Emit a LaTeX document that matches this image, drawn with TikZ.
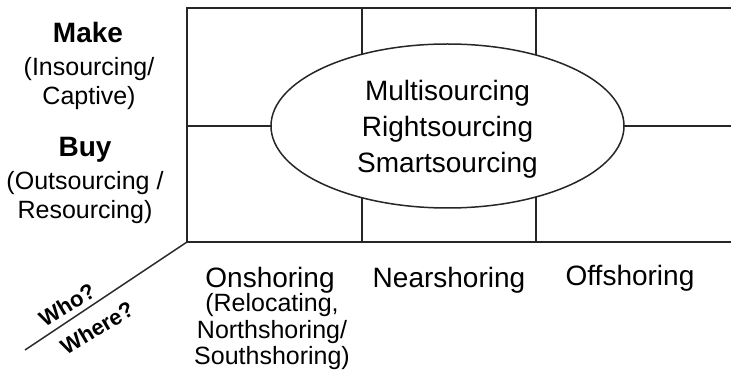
\documentclass[tikz,border=0pt]{standalone}
\usepackage{fontspec}
\setmainfont{Liberation Sans}
\usetikzlibrary{shapes.geometric}
\begin{document}
\begin{tikzpicture}[x=1pt,y=-1pt,
  gridline/.style={line width=1.5pt, draw=black!85},
  head/.style={font=\fontsize{28}{32}\selectfont\bfseries, inner sep=0pt},
  sub/.style={font=\fontsize{25}{29}\selectfont, align=center, inner sep=0pt},
  axis/.style={font=\fontsize{28}{32}\selectfont, inner sep=0pt},
  axsub/.style={font=\fontsize{25}{26.5}\selectfont, align=center, inner sep=0pt},
  tag/.style={font=\fontsize{22}{24}\selectfont\bfseries, inner sep=0pt, rotate=31}]
\useasboundingbox (0,0) rectangle (731,379);

% grid corners and dividers
\coordinate (tl) at (187,8);
\coordinate (tr) at (731,8);
\coordinate (bl) at (187,242);
\coordinate (br) at (731,242);
\coordinate (ml) at (187,126);
\coordinate (mr) at (731,126);
\coordinate (v1t) at (362,8);
\coordinate (v1b) at (362,242);
\coordinate (v2t) at (536,8);
\coordinate (v2b) at (536,242);
\coordinate (diag) at (25,350);

\draw[gridline] (tr) -- (tl) -- (bl) -- (br);
\draw[gridline] (ml) -- (mr);
\draw[gridline] (v1t) -- (v1b);
\draw[gridline] (v2t) -- (v2b);
\draw[gridline] (bl) -- (diag);

% central ellipse
\node[ellipse, draw=black!85, line width=1.5pt, fill=white, minimum width=353pt,
      minimum height=164pt, inner sep=0pt] (core) at (447.5,126) {};
\node[align=center, inner sep=0pt, font=\fontsize{28}{36}\selectfont]
  (coretext) at (447.5,129) {Multisourcing\\Rightsourcing\\Smartsourcing};

% who: rows
\node[head] (make) at (88,32) {Make};
\node[sub] (makesub) at (89,84) {(Insourcing/\\Captive)};
\node[head] (buy) at (85,150) {Buy};
\node[sub] (buysub) at (85,198) {(Outsourcing /\\Resourcing)};

% where: columns
\node[axis] (on) at (270,280) {Onshoring};
\node[axsub] (onsub) at (272,332) {(Relocating,\\Northshoring/\\Southshoring)};
\node[axis] (near) at (449,280) {Nearshoring};
\node[axis] (off) at (630,278) {Offshoring};

% axis tags on either side of the diagonal
\node[tag] (who) at (67,305) {Who?};
\node[tag] (where) at (97,328) {Where?};
\end{tikzpicture}
\end{document}
